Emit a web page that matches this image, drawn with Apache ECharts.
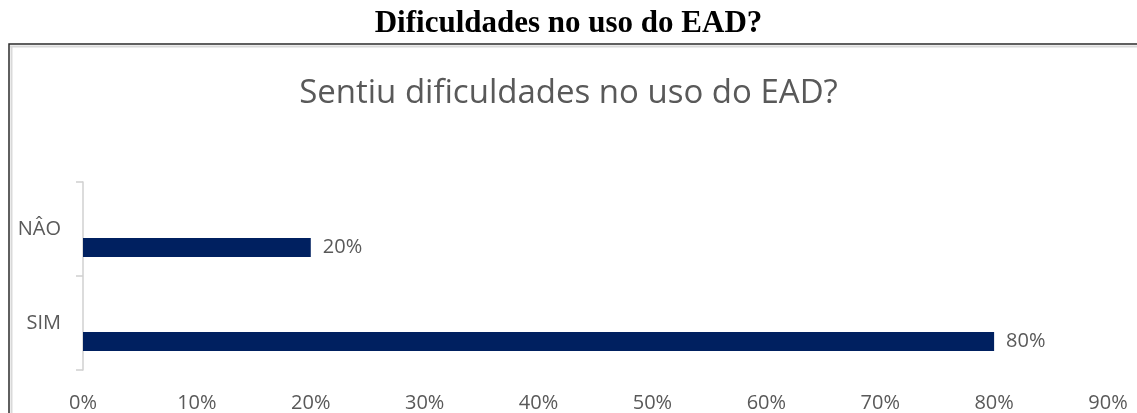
<!DOCTYPE html>
<html>
<head>
<meta charset="utf-8">
<style>
  html, body { margin: 0; padding: 0; background: #ffffff; }
  #chart { width: 1137px; height: 413px; }
</style>
<script src="https://cdn.jsdelivr.net/npm/echarts@6/dist/echarts.min.js"></script>
</head>
<body>
<div id="chart"></div>
<script>
// Survey answers and their share of respondents (%)
const categories = ['SIM', 'NÂO'];
const shares = [80, 20];
const tickLabels = ['0%', '10%', '20%', '30%', '40%', '50%', '60%', '70%', '80%', '90%'];

const chart = echarts.init(document.getElementById('chart'));
const labelFont = '"Open Sans", sans-serif';

chart.setOption({
  animation: false,
  title: [
    {
      text: 'Dificuldades no uso do EAD?',
      left: 'center',
      top: 3,
      textStyle: { fontFamily: '"Liberation Serif", "Times New Roman", serif', fontWeight: 'bold', fontSize: 31, color: '#000000' }
    },
    {
      text: 'Sentiu dificuldades no uso do EAD?',
      left: 'center',
      top: 72,
      textStyle: { fontFamily: labelFont, fontWeight: 'normal', fontSize: 33, color: '#595959' }
    }
  ],
  graphic: [
    // frame of the chart area (continues past the page edge)
    { type: 'rect', shape: { x: 9, y: 44, width: 1300, height: 500 }, style: { fill: 'none', stroke: '#2b2b2b', lineWidth: 1.5 }, silent: true },
    { type: 'line', shape: { x1: 10, y1: 46.5, x2: 1137, y2: 46.5 }, style: { stroke: '#d9d9d9', lineWidth: 2 }, silent: true },
    { type: 'line', shape: { x1: 11.5, y1: 46, x2: 11.5, y2: 413 }, style: { stroke: '#d9d9d9', lineWidth: 2 }, silent: true }
  ],
  grid: { left: 83, right: 29, top: 182, bottom: 43, containLabel: false },
  xAxis: {
    type: 'value',
    min: 0,
    max: 90,
    interval: 10,
    axisLine: { show: false },
    axisTick: { show: false },
    splitLine: { show: false },
    axisLabel: {
      margin: 23,
      fontFamily: labelFont,
      fontSize: 20,
      color: '#595959',
      formatter: (v) => tickLabels[Math.round(v / 10)]
    }
  },
  yAxis: {
    type: 'category',
    data: categories,
    axisLine: { show: true, lineStyle: { color: '#d0d0d0', width: 1.5 } },
    axisTick: { show: true, length: 7, lineStyle: { color: '#d0d0d0', width: 1.5 } },
    axisLabel: { margin: 22, fontFamily: labelFont, fontSize: 20, color: '#595959' }
  },
  series: [
    {
      // empty slot of the clustered layout, keeps the bars in the lower half of each band
      type: 'bar',
      name: 'slot',
      data: categories.map(() => null),
      barWidth: 19,
      barGap: '95%',
      silent: true
    },
    {
      type: 'bar',
      name: 'Respostas',
      data: shares,
      barWidth: 19,
      barGap: '95%',
      itemStyle: { color: '#002060' },
      label: {
        show: true,
        position: 'right',
        distance: 12,
        fontFamily: labelFont,
        fontSize: 20,
        color: '#595959',
        formatter: (p) => p.value + '%'
      }
    }
  ]
});
</script>
</body>
</html>
